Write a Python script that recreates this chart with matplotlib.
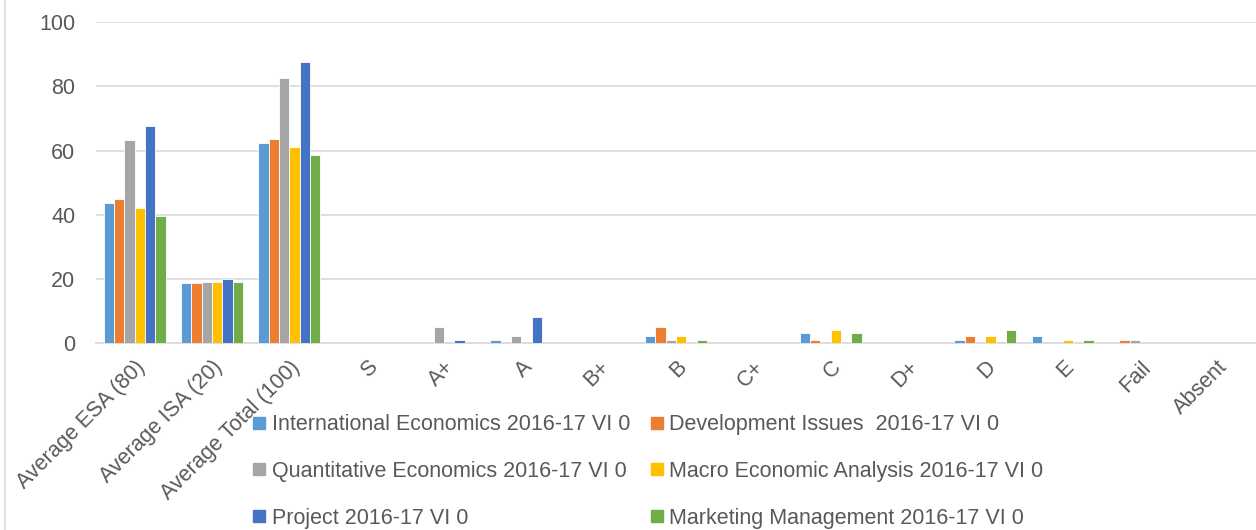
import numpy as np
import matplotlib
matplotlib.use('Agg')
import matplotlib.pyplot as plt
from matplotlib.lines import Line2D

plt.rcParams['font.family'] = ['Liberation Sans', 'DejaVu Sans']

categories = ['Average ESA (80)', 'Average ISA (20)', 'Average Total (100)',
              'S', 'A+', 'A', 'B+', 'B', 'C+', 'C', 'D+', 'D', 'E', 'Fail', 'Absent']

series_names = ['International Economics 2016-17 VI 0',
                'Development Issues  2016-17 VI 0',
                'Quantitative Economics 2016-17 VI 0',
                'Macro Economic Analysis 2016-17 VI 0',
                'Project 2016-17 VI 0',
                'Marketing Management 2016-17 VI 0']

intl_econ = [43.6, 18.6, 62.3, 0, 0, 1, 0, 2, 0, 3, 0, 1, 2, 0, 0]
dev_issues = [44.9, 18.6, 63.6, 0, 0, 0, 0, 5, 0, 1, 0, 2, 0, 1, 0]
quant_econ = [63.4, 19.0, 82.5, 0, 5, 2, 0, 1, 0, 0, 0, 0, 0, 1, 0]
macro_econ = [42.0, 19.0, 61.2, 0, 0, 0, 0, 2, 0, 4, 0, 2, 1, 0, 0]
project = [67.5, 19.9, 87.5, 0, 1, 8, 0, 0, 0, 0, 0, 0, 0, 0, 0]
marketing = [39.7, 18.9, 58.7, 0, 0, 0, 0, 1, 0, 3, 0, 4, 1, 0, 0]

colors = ['#5B9BD5', '#ED7D31', '#A5A5A5', '#FFC000', '#4472C4', '#70AD47']
all_series = [intl_econ, dev_issues, quant_econ, macro_econ, project, marketing]

fig = plt.figure(figsize=(12.56, 5.30), dpi=100)
ax = fig.add_axes([0.0764, 0.353, 0.9236, 0.605])

x = np.arange(len(categories))
w = 0.134
for i, (vals, c) in enumerate(zip(all_series, colors)):
    ax.bar(x + (i - 2.5) * w, vals, width=w, color=c,
           edgecolor='white', linewidth=0.6, zorder=3)

ax.set_xlim(-0.5, len(categories) - 0.5)
ax.set_ylim(0, 100)
ax.set_yticks(range(0, 101, 20))
ax.yaxis.grid(True, color='#d9d9d9', linewidth=1.2, zorder=0)
ax.set_axisbelow(True)
for s in ['top', 'right', 'left']:
    ax.spines[s].set_visible(False)
ax.spines['bottom'].set_color('#d9d9d9')
ax.spines['bottom'].set_linewidth(1.2)
ax.tick_params(axis='both', length=0, colors='#595959', labelsize=15.5)
ax.tick_params(axis='y', pad=15)

ax.set_xticks(x)
ax.set_xticklabels(categories, rotation=45, ha='right', va='top',
                   rotation_mode='anchor')
ax.tick_params(axis='x', pad=10)

# legend fills row by row in the reference, so reorder for column-major filling
order = [0, 2, 4, 1, 3, 5]
handles = [Line2D([0], [0], marker='s', linestyle='none', markersize=8.5,
                  markerfacecolor=colors[k], markeredgecolor=colors[k]) for k in order]
labels = [series_names[k] for k in order]
fig.legend(handles, labels, ncol=2, loc='upper left',
           bbox_to_anchor=(0.192, 0.235), frameon=False, fontsize=15.5,
           labelcolor='#595959', handletextpad=0.15, columnspacing=0.75,
           labelspacing=1.2, borderaxespad=0, handlelength=0.9)

fig.add_artist(Line2D([0.004, 0.004], [0, 1], color='#d9d9d9', linewidth=1.2))

fig.savefig('out.png', dpi=100)
